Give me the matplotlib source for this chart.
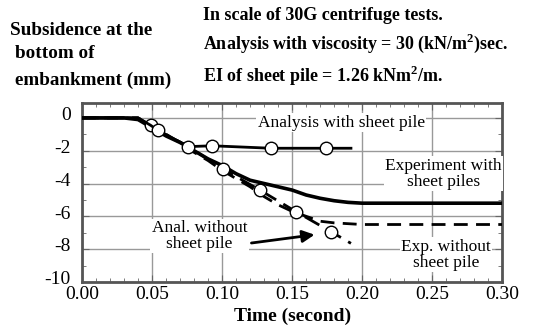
import matplotlib.pyplot as plt
from matplotlib.ticker import MultipleLocator
from matplotlib.transforms import ScaledTranslation

plt.rcParams["font.family"] = ["Liberation Serif", "DejaVu Serif"]
plt.rcParams["mathtext.fontset"] = "custom"
plt.rcParams["mathtext.rm"] = "Liberation Serif"
plt.rcParams["mathtext.bf"] = "Liberation Serif:bold"
plt.rcParams["axes.unicode_minus"] = False

# Analysis with sheet pile (solid, open circles)
t_anal_with = [0.0, 0.04, 0.049, 0.054, 0.076, 0.093, 0.135, 0.174, 0.192]
y_anal_with = [0.0, 0.0, -0.45, -0.75, -1.75, -1.7, -1.85, -1.85, -1.85]

# Experiment with sheet piles (thick solid)
t_exp_with = [0.0, 0.03, 0.04, 0.05, 0.06, 0.07, 0.08, 0.09, 0.10, 0.11, 0.12,
              0.13, 0.14, 0.15, 0.16, 0.17, 0.18, 0.19, 0.20, 0.25, 0.30]
y_exp_with = [0.0, 0.0, -0.1, -0.6, -1.1, -1.5, -2.0, -2.5, -2.9, -3.4, -3.8,
              -4.0, -4.2, -4.4, -4.7, -4.9, -5.05, -5.15, -5.2, -5.2, -5.2]

# Analysis without sheet pile (dashed, open circles)
t_anal_wo = [0.0, 0.04, 0.049, 0.054, 0.076, 0.101, 0.127, 0.153, 0.178, 0.192]
y_anal_wo = [0.0, 0.0, -0.45, -0.75, -1.75, -3.14, -4.4, -5.73, -6.95, -7.65]

# Experiment without sheet pile (dashed)
t_exp_wo = [0.0, 0.04, 0.05, 0.06, 0.07, 0.08, 0.09, 0.10, 0.11, 0.12, 0.13,
            0.14, 0.15, 0.16, 0.17, 0.18, 0.20, 0.30]
y_exp_wo = [0.0, 0.0, -0.5, -1.0, -1.5, -2.1, -2.6, -3.2, -3.7, -4.2, -4.8,
            -5.3, -5.7, -6.0, -6.3, -6.4, -6.5, -6.5]

fig = plt.figure(figsize=(5.36, 3.36), dpi=100)
ax = fig.add_axes([0.153, 0.161, 0.784, 0.532])

ax.plot(t_exp_with, y_exp_with, color="black", lw=2.6, zorder=3)
ax.plot(t_exp_wo, y_exp_wo, color="black", lw=2.0, ls=(0, (5, 3)), zorder=3)
ax.plot(t_anal_wo, y_anal_wo, color="black", lw=2.0, ls=(0, (6, 3)),
        marker="o", markevery=[2, 5, 6, 7, 8], ms=9, mfc="white", mec="black",
        mew=1.0, zorder=4)
ax.plot(t_anal_with, y_anal_with, color="black", lw=2.0,
        marker="o", markevery=[3, 4, 5, 6, 7], ms=9, mfc="white", mec="black",
        mew=1.0, zorder=4)

ax.set_xlim(0, 0.30)
ax.set_ylim(-10, 0.9)
ax.xaxis.set_major_locator(MultipleLocator(0.05))
ax.xaxis.set_minor_locator(MultipleLocator(0.01))
ax.yaxis.set_major_locator(MultipleLocator(2))
ax.yaxis.set_minor_locator(MultipleLocator(1))
ax.set_xticklabels([f"{v:.2f}" for v in ax.get_xticks()])
ax.tick_params(which="both", direction="in", top=True, right=True,
               color="#666666", labelsize=14)
ax.tick_params(which="major", length=5)
ax.tick_params(which="minor", length=3)
ax.tick_params(axis="x", pad=3)
ax.tick_params(axis="y", pad=8)
ax.grid(True, which="major", color="#999999", lw=1.0)
for s in ax.spines.values():
    s.set_color("#555555")
    s.set_linewidth(2)

# y labels sit a little above their ticks in the original
shift = ScaledTranslation(0, 3 / 72, fig.dpi_scale_trans)
for lab in ax.get_yticklabels():
    lab.set_transform(lab.get_transform() + shift)

box = dict(facecolor="white", edgecolor="none", pad=1)
ax.text(0.185, -0.3, "Analysis with sheet pile", fontsize=12.5,
        ha="center", va="center", bbox=box, zorder=5)
ax.text(0.258, -3.4, "Experiment with\nsheet piles", fontsize=12.5,
        ha="center", va="center", linespacing=1.0, bbox=box, zorder=5)
ax.text(0.26, -8.35, "Exp. without\nsheet pile", fontsize=12.5,
        ha="center", va="center", linespacing=1.0, bbox=box, zorder=5)
ax.text(0.084, -7.2, "Anal. without\nsheet pile", fontsize=12.5,
        ha="center", va="center", linespacing=1.0, bbox=box, zorder=5)
ax.annotate("", xy=(0.168, -7.1), xytext=(0.119, -7.65),
            arrowprops=dict(arrowstyle="-|>", color="black", lw=2,
                            mutation_scale=18), zorder=6)

ax.set_xlabel("Time (second)", fontsize=14, fontweight="bold", labelpad=3)

fig.text(0.018, 0.91, "Subsidence at the", fontsize=13.8, fontweight="bold",
         va="center")
fig.text(0.028, 0.842, "bottom of", fontsize=13.8, fontweight="bold",
         va="center")
fig.text(0.028, 0.762, "embankment (mm)", fontsize=13.8, fontweight="bold",
         va="center")
fig.text(0.378, 0.955, "In scale of 30G centrifuge tests.", fontsize=13,
         fontweight="bold", va="center")
fig.text(0.378, 0.87, r"Analysis with viscosity = 30 (kN/m$^\mathbf{2}$)sec.",
         fontsize=13, fontweight="bold", va="center")
fig.text(0.378, 0.775, r"EI of sheet pile = 1.26 kNm$^\mathbf{2}$/m.",
         fontsize=13, fontweight="bold", va="center")

fig.savefig("out.png", dpi=100)
